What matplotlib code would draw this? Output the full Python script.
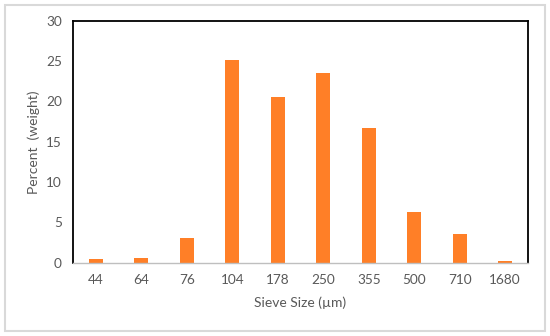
import matplotlib
matplotlib.use("Agg")
import matplotlib.pyplot as plt
from matplotlib.patches import Rectangle

categories = ["44", "64", "76", "104", "178", "250", "355", "500", "710", "1680"]
percent = [0.4, 0.6, 3.0, 25.2, 20.5, 23.6, 16.7, 6.3, 3.5, 0.15]
yticks = [0, 5, 10, 15, 20, 25, 30]

plt.rcParams['font.family'] = ['Lato', 'DejaVu Sans']
gray = '#595959'

fig = plt.figure(figsize=(5.5, 3.36), dpi=100)
fig.patch.set_facecolor('white')
fig.patches.append(Rectangle((5/550, 5/336), 540/550, 326/336, transform=fig.transFigure,
                             fill=False, edgecolor='#D9D9D9', linewidth=1.5))

ax = fig.add_axes([73/550, 1 - 262.5/336, 455/550, (262.5 - 21)/336])
x = list(range(len(categories)))
ax.bar(x, percent, width=0.31, color='#FF7F27')
ax.set_xlim(-0.5, len(categories) - 0.5)
ax.set_ylim(0, 30)
ax.set_yticks(yticks)
ax.set_xticks(x)
ax.set_xticklabels(categories)
ax.tick_params(axis='both', length=0, labelsize=9.8, labelcolor=gray)
ax.tick_params(axis='y', pad=8)
ax.tick_params(axis='x', pad=8)
for s in ['left', 'top', 'right']:
    ax.spines[s].set_color('black')
    ax.spines[s].set_linewidth(1.3)
ax.spines['bottom'].set_color('#BFBFBF')
ax.spines['bottom'].set_linewidth(1.0)
ax.set_ylabel('Percent  (weight)', fontsize=10, color=gray)
ax.set_xlabel('Sieve Size (µm)', fontsize=10, color=gray)
ax.yaxis.set_label_coords(-0.073, 0.5)
ax.xaxis.set_label_coords(0.5, -0.139)

fig.savefig('out.png', dpi=100)
